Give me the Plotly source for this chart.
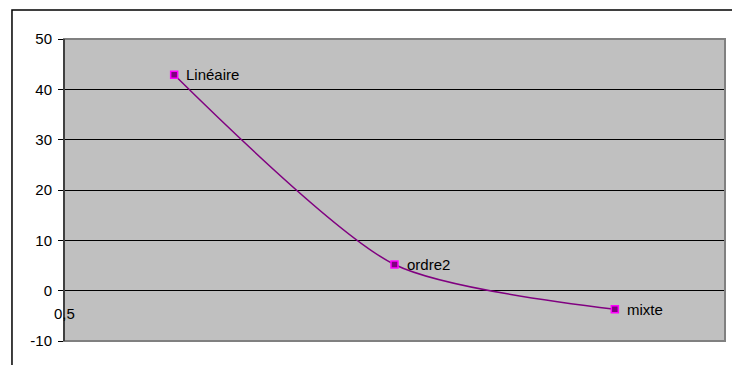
import plotly.graph_objects as go

methods = ['Linéaire', 'ordre2', 'mixte']
values = [42.9, 5.2, -3.7]
y_ticks = [-10, 0, 10, 20, 30, 40, 50]
y_tick_text = ['-10', '0', '10', '20', '30', '40', '50']

FONT = 'Liberation Sans, Arial'

fig = go.Figure(data=[go.Scatter(
    x=methods,
    y=values,
    mode='lines+markers',
    line=dict(color='#800080', width=1.5, shape='spline', smoothing=0.7),
    marker=dict(symbol='square', size=7, color='#800080',
                line=dict(color='#ff00ff', width=1.5)),
    cliponaxis=False,
)])

# data labels to the right of each point
labels = [
    dict(text=m, x=m, y=v, xref='x', yref='y', xanchor='left', yanchor='middle',
         xshift=10, showarrow=False, font=dict(family=FONT, size=15, color='black'))
    for m, v in zip(methods, values)
]

# page body adds 8px, so the figure is 8px smaller than the window
fig.update_layout(
    width=732, height=357,
    margin=dict(l=56, r=15, t=31, b=24),
    paper_bgcolor='white',
    plot_bgcolor='#c0c0c0',
    showlegend=False,
    font=dict(family=FONT, size=15, color='black'),
    xaxis=dict(
        type='category',
        range=[-0.5, 2.5],
        showticklabels=False,
        showgrid=False,
        zeroline=False,
        showline=False,
        ticks='',
    ),
    yaxis=dict(
        range=[-10, 50],
        tickvals=y_ticks,
        ticktext=y_tick_text,
        showgrid=True,
        gridcolor='black',
        gridwidth=1,
        zeroline=False,
        showline=True,
        linecolor='black',
        linewidth=1,
        ticks='outside',
        ticklen=5,
        tickcolor='black',
        ticklabelstandoff=3,
    ),
    shapes=[
        # plot area border
        dict(type='rect', xref='paper', yref='paper', x0=0, x1=1, y0=0, y1=1,
             line=dict(color='#808080', width=2), layer='above'),
        dict(type='line', xref='paper', yref='paper', x0=0, x1=0, y0=0, y1=1,
             line=dict(color='black', width=1), layer='above'),
        # chart outer border
        dict(type='rect', xref='paper', yref='paper',
             x0=-0.0787, x1=1.05, y0=-0.12, y1=1.096,
             line=dict(color='black', width=1.5), layer='below'),
    ],
    annotations=labels + [
        dict(text='0,5', xref='paper', yref='y', x=0, y=0,
             xanchor='center', yanchor='top', yshift=-12, showarrow=False,
             font=dict(family=FONT, size=15, color='black')),
    ],
)

fig.write_html('out.html')
